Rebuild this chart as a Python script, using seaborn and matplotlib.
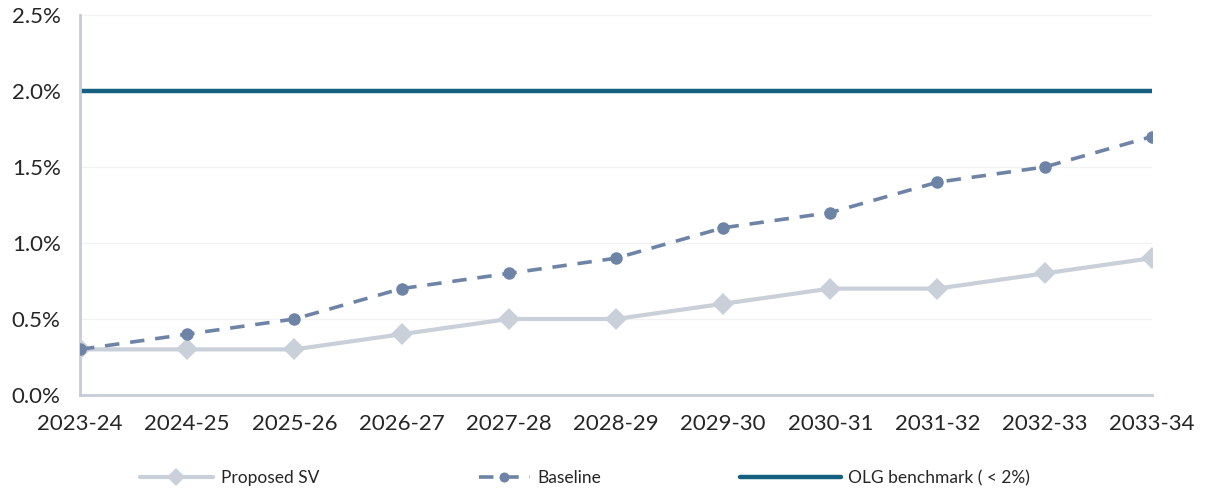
import matplotlib
matplotlib.use("Agg")
import matplotlib.pyplot as plt
import seaborn as sns
import pandas as pd
from matplotlib.ticker import FuncFormatter

years = ["2023-24", "2024-25", "2025-26", "2026-27", "2027-28", "2028-29",
         "2029-30", "2030-31", "2031-32", "2032-33", "2033-34"]
proposed_sv = [0.3, 0.3, 0.3, 0.4, 0.5, 0.5, 0.6, 0.7, 0.7, 0.8, 0.9]
baseline = [0.3, 0.4, 0.5, 0.7, 0.8, 0.9, 1.1, 1.2, 1.4, 1.5, 1.7]
olg_benchmark = [2.0] * len(years)
series_names = ["Proposed SV", "Baseline", "OLG benchmark ( < 2%)"]
y_ticks = [0.0, 0.5, 1.0, 1.5, 2.0, 2.5]

sns.set_theme(style="white")
plt.rcParams["font.family"] = ["Lato", "DejaVu Sans"]

fig = plt.figure(figsize=(12.07, 4.93), dpi=100)
ax = fig.add_axes([0.0663, 0.1988, 0.888, 0.7708])

idx = list(range(len(years)))
df_sv = pd.DataFrame({"x": idx, "y": proposed_sv})
df_bl = pd.DataFrame({"x": idx, "y": baseline})
df_olg = pd.DataFrame({"x": idx, "y": olg_benchmark})

c_sv = "#c9d0da"
c_bl = "#6e84a6"
c_olg = "#15607e"
text_c = "#262626"

sns.lineplot(data=df_olg, x="x", y="y", ax=ax, color=c_olg, lw=3.2,
             label=series_names[2], zorder=2)
sns.lineplot(data=df_sv, x="x", y="y", ax=ax, color=c_sv, lw=3.0, marker="D",
             markersize=11, markeredgewidth=0, label=series_names[0], zorder=3)
sns.lineplot(data=df_bl, x="x", y="y", ax=ax, color=c_bl, lw=2.6, marker="o",
             markersize=9, markeredgewidth=0, label=series_names[1], zorder=4)
for line in ax.get_lines():
    if line.get_label() == series_names[1]:
        line.set_linestyle((0, (4, 3)))

ax.set_xlim(0, len(years) - 1)
ax.set_ylim(0, 2.5)
ax.set_xticks(idx)
ax.set_xticklabels(years)
ax.set_yticks(y_ticks)
ax.yaxis.set_major_formatter(FuncFormatter(lambda v, p: f"{v:.1f}%"))
ax.set_xlabel("")
ax.set_ylabel("")

ax.grid(axis="y", color="#f2f2f2", lw=1)
ax.set_axisbelow(True)
for s in ["top", "right"]:
    ax.spines[s].set_visible(False)
for s in ["left", "bottom"]:
    ax.spines[s].set_color("#c5ccd8")
    ax.spines[s].set_linewidth(2)
ax.tick_params(axis="both", which="major", length=6, width=2, color="#c5ccd8",
               labelsize=16, labelcolor=text_c, direction="out")
ax.tick_params(axis="x", pad=8)
ax.tick_params(axis="y", pad=8)

handles, labels = ax.get_legend_handles_labels()
hmap = dict(zip(labels, handles))
if ax.get_legend() is not None:
    ax.get_legend().remove()

# separate legend entries placed like the reference
leg_specs = [(series_names[0], 0.116, 4.2), (series_names[1], 0.397, 2.9),
             (series_names[2], 0.613, 5.8)]
for name, xpos, hl in leg_specs:
    fig.legend([hmap[name]], [name], loc="center left",
               bbox_to_anchor=(xpos, 0.03), bbox_transform=fig.transFigure,
               frameon=False, fontsize=12.5, handlelength=hl,
               handletextpad=0.45, borderpad=0, borderaxespad=0,
               markerscale=0.8, labelcolor=text_c)

fig.savefig("out.png", dpi=100)
